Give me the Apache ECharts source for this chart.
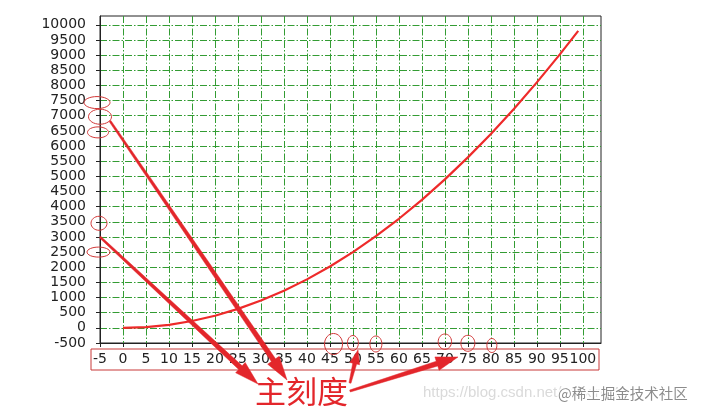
<!DOCTYPE html>
<html>
<head>
<meta charset="utf-8">
<script src="https://cdn.jsdelivr.net/npm/echarts@6/dist/echarts.min.js"></script>
<style>
html,body{margin:0;padding:0;background:#fff;}
#main{width:702px;height:413px;}
</style>
</head>
<body>
<div id="main"></div>
<script>
// ---- data ----
const xTicks = [-5,0,5,10,15,20,25,30,35,40,45,50,55,60,65,70,75,80,85,90,95,100];
const yTicks = [-500,0,500,1000,1500,2000,2500,3000,3500,4000,4500,5000,5500,6000,6500,7000,7500,8000,8500,9000,9500,10000];
const xValues = [0,5,10,15,20,25,30,35,40,45,50,55,60,65,70,75,80,85,90,95,99];
const yValues = [0,25,100,225,400,625,900,1225,1600,2025,2500,3025,3600,4225,4900,5625,6400,7225,8100,9025,9801];
const annotationText = '主刻度';
const markedYTicks = [7500,7000,6500,3500,2500];
const markedXTicks = [45,50,55,70,75,80];

const chart = echarts.init(document.getElementById('main'), null, {renderer:'canvas'});
const axisColor = '#222';
const gridLine = {color:'#339c33', width:1, type:[7,2,1.5,2]};
const labelFont = {fontSize:14, color:'#222', fontFamily:'DejaVu Sans', formatter:function(v){return String(v);}};

chart.setOption({
  animation:false,
  grid:{left:100, top:16, right:101, bottom:70, show:true, borderColor:axisColor, borderWidth:1, backgroundColor:'transparent'},
  xAxis:{
    type:'value', min:-5, max:103.95, interval:5,
    axisLine:{show:true, onZero:false, lineStyle:{color:axisColor, width:1}},
    axisTick:{show:true, length:4, customValues:xTicks, lineStyle:{color:axisColor}},
    axisLabel:Object.assign({margin:9, customValues:xTicks}, labelFont),
    splitLine:{show:true, lineStyle:gridLine}
  },
  yAxis:{
    type:'value', min:-500, max:10291, interval:500,
    axisLine:{show:true, onZero:false, lineStyle:{color:axisColor, width:1}},
    axisTick:{show:true, length:4, customValues:yTicks, lineStyle:{color:axisColor}},
    axisLabel:Object.assign({margin:14, customValues:yTicks}, labelFont),
    splitLine:{show:true, lineStyle:gridLine}
  },
  series:[{
    type:'line', symbol:'none', clip:true,
    data:xValues.map((x,i)=>[x,yValues[i]]),
    lineStyle:{color:'#ee2a2a', width:2.2},
    z:5
  }]
});

// ---- annotations ----
const red = '#e3262b';
const ell = '#d03535';
function arrow(x1,y1,x2,y2,w0,w1,hl,hw){
  const dx=x2-x1, dy=y2-y1, L=Math.hypot(dx,dy);
  const ux=dx/L, uy=dy/L, nx=-uy, ny=ux;
  const bx=x2-ux*hl, by=y2-uy*hl;
  const pts=[
    [x1+nx*w0/2, y1+ny*w0/2],
    [bx+nx*w1/2, by+ny*w1/2],
    [bx+nx*hw, by+ny*hw],
    [x2,y2],
    [bx-nx*hw, by-ny*hw],
    [bx-nx*w1/2, by-ny*w1/2],
    [x1-nx*w0/2, y1-ny*w0/2]
  ];
  return {type:'polygon', shape:{points:pts}, style:{fill:red, stroke:red, lineWidth:0.5}, z:100};
}
const g = [];
const yEll = {7500:[-3,2,13,6],7000:[0,1,11.5,7.5],6500:[-2,1.5,10.5,5.5],3500:[-1,1.5,8,7],2500:[-1.5,0,11.5,5]};
markedYTicks.forEach(v=>{
  const p = chart.convertToPixel({gridIndex:0},[-5,v]);
  const o = yEll[v];
  g.push({type:'ellipse', shape:{cx:p[0]+o[0], cy:p[1]+o[1], rx:o[2], ry:o[3]}, style:{fill:null, stroke:ell, lineWidth:1}, z:100});
});
const xEll = {45:[3.6,1,9,10.5],50:[0,0,5.5,7.5],55:[0,1,6,8],70:[0,-1.3,6.7,7.7],75:[0,0.3,7,8],80:[1,2.5,5,7]};
markedXTicks.forEach(v=>{
  const p = chart.convertToPixel({gridIndex:0},[v,-500]);
  const o = xEll[v];
  g.push({type:'ellipse', shape:{cx:p[0]+o[0], cy:p[1]+o[1], rx:o[2], ry:o[3]}, style:{fill:null, stroke:ell, lineWidth:1}, z:100});
});
g.push({type:'rect', shape:{x:91, y:349, width:508, height:21}, style:{fill:null, stroke:'#c83838', lineWidth:1}, z:100});
g.push(arrow(110,121,287,380,2,5,24,7));
g.push(arrow(100,237,258,384,2,5,24,7));
g.push(arrow(350,383,358,350,2,4,14,5));
g.push(arrow(350,391,458,357,2,5,22,7));
g.push({type:'text', x:423, y:393, style:{text:'https://blog.csdn.net/weixin_4', fill:'#dadada', font:'15px "Liberation Sans"', textVerticalAlign:'middle'}, z:90});
g.push({type:'text', x:558, y:393, style:{text:'@稀土掘金技术社区', fill:'#8c8c8c', stroke:'#fff', lineWidth:3, strokeFirst:true, font:'14.5px "Noto Sans CJK SC"', textVerticalAlign:'middle'}, z:95});
g.push({type:'text', x:255, y:391, style:{text:annotationText, fill:red, font:'31px "Noto Sans CJK SC"', textVerticalAlign:'middle'}, z:110});
chart.setOption({graphic:g});
</script>
</body>
</html>
